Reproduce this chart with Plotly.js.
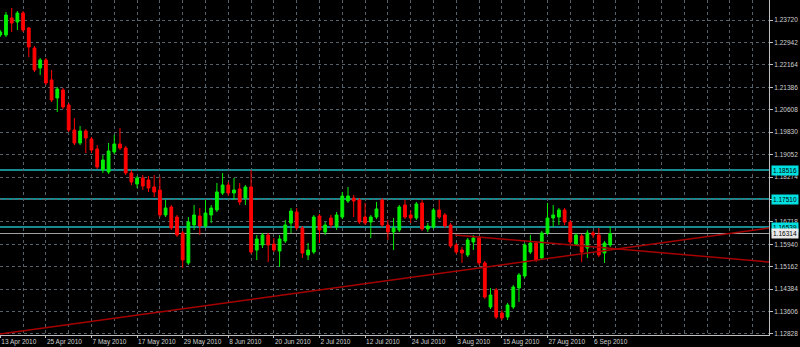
<!DOCTYPE html>
<html>
<head>
<meta charset="utf-8">
<script src="https://cdn.plot.ly/plotly-3.0.1.min.js"></script>
<style>
html,body{margin:0;padding:0;background:#000;}
#chart{width:800px;height:347px;}
</style>
</head>
<body>
<div id="chart"></div>
<script>
// Date labels on the time axis and the bar each one sits on
const dateLabels = ["13 Apr 2010","25 Apr 2010","7 May 2010","17 May 2010","29 May 2010","8 Jun 2010","20 Jun 2010","2 Jul 2010","12 Jul 2010","24 Jul 2010","3 Aug 2010","15 Aug 2010","27 Aug 2010","6 Sep 2010"];
const dateLabelBars = [0,8,16,24,32,40,48,56,64,72,80,88,96,104];

// Price axis labels
const priceTicks = [1.23720,1.22942,1.22164,1.21386,1.20608,1.19830,1.19052,1.18274,1.17496,1.16718,1.15940,1.15162,1.14384,1.13606,1.12828];
const priceTickText = ["1.23720","1.22942","1.22164","1.21386","1.20608","1.19830","1.19052","1.18274","1.17496","1.16718","1.15940","1.15162","1.14384","1.13606","1.12828"];

// Daily OHLC
const opens = [1.23200,1.23200,1.23790,1.23651,1.23963,1.23443,1.22749,1.22055,1.22333,1.21639,
1.21014,1.21292,1.20772,1.19904,1.19453,1.19870,1.19592,1.19245,1.18517,1.18447,
1.19141,1.19419,1.19280,1.18413,1.18031,1.18239,1.18170,1.17927,1.17823,1.16956,
1.17233,1.16886,1.16331,1.15291,1.16609,1.16921,1.16574,1.16956,1.17129,1.17719,
1.17996,1.17719,1.17858,1.17545,1.17927,1.15742,1.15915,1.16262,1.15950,1.15707,
1.16054,1.16678,1.17060,1.16505,1.15568,1.15672,1.16921,1.16366,1.16852,1.16539,
1.16886,1.17441,1.17545,1.17476,1.16886,1.16713,1.16886,1.17476,1.16609,1.16366,
1.16435,1.17303,1.16956,1.16852,1.17372,1.16470,1.16539,1.17129,1.16956,1.16609,
1.15915,1.15742,1.15568,1.16019,1.16158,1.15291,1.13764,1.14354,1.13556,1.13417,
1.13764,1.14423,1.14840,1.15672,1.15984,1.15464,1.16331,1.16852,1.16886,1.17129,
1.16713,1.15950,1.16227,1.15811,1.16331,1.16262,1.15638,1.15915];
const highs = [1.23373,1.23998,1.24136,1.24032,1.24032,1.23477,1.22818,1.22402,1.22402,1.21986,
1.21396,1.21361,1.20841,1.20321,1.20043,1.19939,1.19661,1.19384,1.19037,1.19453,
1.19731,1.19974,1.19349,1.18517,1.18309,1.18343,1.18309,1.18343,1.18274,1.17476,
1.17303,1.16956,1.16401,1.16886,1.17303,1.17198,1.17476,1.17303,1.18066,1.18413,
1.18100,1.18239,1.18066,1.17996,1.18517,1.16262,1.16331,1.16331,1.16158,1.16262,
1.16782,1.17198,1.17198,1.16574,1.15984,1.16956,1.16990,1.16713,1.16956,1.17060,
1.17754,1.17927,1.17649,1.17545,1.17372,1.16956,1.17407,1.17545,1.16782,1.16852,
1.17303,1.17476,1.17129,1.17407,1.17476,1.16678,1.17198,1.17476,1.17025,1.16678,
1.15984,1.15846,1.16158,1.16262,1.16227,1.15360,1.14423,1.14423,1.13660,1.13903,
1.14527,1.14944,1.15984,1.16262,1.16054,1.16401,1.17372,1.17303,1.17198,1.17198,
1.16782,1.16331,1.16297,1.16435,1.16401,1.16505,1.16054,1.16539];
const lows = [1.23130,1.23130,1.23304,1.23373,1.23304,1.22437,1.21916,1.21812,1.21465,1.20876,
1.20529,1.20633,1.19835,1.19384,1.19384,1.19106,1.19106,1.18551,1.18413,1.18378,
1.19072,1.19210,1.18343,1.17996,1.17892,1.17823,1.17754,1.17580,1.16886,1.16886,
1.16435,1.16193,1.15117,1.15221,1.16435,1.16262,1.16505,1.16678,1.17060,1.17649,
1.17615,1.17476,1.17303,1.17303,1.15603,1.15395,1.15811,1.15326,1.15672,1.15152,
1.15984,1.16331,1.16435,1.15464,1.15395,1.15603,1.15984,1.16262,1.16505,1.16435,
1.16817,1.17372,1.16886,1.16643,1.16609,1.16158,1.16817,1.16539,1.16088,1.15742,
1.16366,1.16817,1.16678,1.16782,1.16401,1.16366,1.16470,1.16817,1.16505,1.15811,
1.15603,1.15291,1.15499,1.15742,1.15221,1.14042,1.13695,1.13348,1.13313,1.13313,
1.13695,1.13938,1.14770,1.15603,1.15326,1.15395,1.16262,1.16539,1.16609,1.16609,
1.15950,1.15880,1.15326,1.15464,1.16158,1.15499,1.15291,1.15846];
const closes = [1.23304,1.23894,1.23616,1.23963,1.23373,1.22784,1.21986,1.22333,1.21535,1.20945,
1.21327,1.20702,1.19904,1.19453,1.19870,1.19627,1.19210,1.18621,1.18864,1.19176,
1.19419,1.19280,1.18413,1.18100,1.18239,1.17962,1.17892,1.17754,1.16956,1.17198,
1.16505,1.16262,1.15395,1.16713,1.16956,1.16574,1.17025,1.17198,1.17754,1.17996,
1.17719,1.17823,1.17407,1.17927,1.15672,1.16123,1.16262,1.15915,1.15742,1.16123,
1.16609,1.17094,1.16505,1.15638,1.15742,1.16886,1.16435,1.16609,1.16609,1.16956,
1.17615,1.17615,1.17441,1.16713,1.16678,1.16886,1.17164,1.16609,1.16366,1.16505,
1.17233,1.16886,1.16852,1.17337,1.16470,1.16574,1.17129,1.16886,1.16574,1.15880,
1.15672,1.15638,1.16088,1.16158,1.15291,1.14111,1.14180,1.13417,1.13383,1.13834,
1.14458,1.14874,1.15915,1.15984,1.15395,1.16331,1.16852,1.16956,1.17129,1.16713,
1.16019,1.16262,1.15672,1.16331,1.16262,1.15568,1.15984,1.16314];

// Horizontal levels (cyan) and trend lines (bar index, price)
const cyanLevels = [1.18516, 1.17510, 1.16539];
const upTrendBars = [-0.05, 134.86];
const upTrendPrices = [1.12828, 1.16505];
const downTrendBars = [79.8, 134.86];
const downTrendPrices = [1.16262, 1.15326];

const bars = opens.map((_, i) => i);
const bid = closes[closes.length - 1];

const gridColor = '#55616b';
const textColor = '#d0d0d0';
const cyan = '#1fb8c0';
const trendRed = '#a80000';

const traces = [
  {
    type: 'candlestick',
    x: bars, open: opens, high: highs, low: lows, close: closes,
    increasing: {line: {color: '#00ee00', width: 1}, fillcolor: '#00ee00'},
    decreasing: {line: {color: '#ff0000', width: 1}, fillcolor: '#ff0000'},
    whiskerwidth: 0,
    hoverinfo: 'skip',
    showlegend: false
  },
  {
    type: 'scatter', mode: 'lines', x: upTrendBars, y: upTrendPrices,
    line: {color: trendRed, width: 1.5}, hoverinfo: 'skip', showlegend: false
  },
  {
    type: 'scatter', mode: 'lines', x: downTrendBars, y: downTrendPrices,
    line: {color: trendRed, width: 1.5}, hoverinfo: 'skip', showlegend: false
  }
];

const shapes = cyanLevels.map(v => ({
  type: 'line', xref: 'paper', x0: 0, x1: 1, yref: 'y', y0: v, y1: v,
  line: {color: cyan, width: 1.5}, layer: 'below'
}));
shapes.push({
  type: 'line', xref: 'paper', x0: 0, x1: 1, yref: 'y', y0: bid, y1: bid,
  line: {color: '#a0a0a0', width: 1}, layer: 'below'
});

const annotations = cyanLevels.map(v => ({
  xref: 'paper', x: 1, xanchor: 'left', xshift: 2, yref: 'y', y: v, yanchor: 'middle',
  text: v.toFixed(5), showarrow: false, bgcolor: '#00e0e0', borderpad: 1,
  font: {family: 'Liberation Sans, Arial', size: 6.5, color: '#000'}
}));
annotations.push({
  xref: 'paper', x: 1, xanchor: 'left', xshift: 2, yref: 'y', y: bid, yanchor: 'middle',
  text: bid.toFixed(5), showarrow: false, bgcolor: '#e8e8e8', borderpad: 1,
  font: {family: 'Liberation Sans, Arial', size: 6.5, color: '#000'}
});

const layout = {
  width: 800, height: 347,
  margin: {l: 0, r: 31, t: 0, b: 12, pad: 0},
  paper_bgcolor: '#000', plot_bgcolor: '#000',
  showlegend: false,
  dragmode: false,
  xaxis: {
    type: 'linear',
    range: [-0.05, 134.86],
    tickmode: 'array', tickvals: dateLabelBars, ticktext: dateLabels,
    tickangle: 0,
    ticklabelposition: 'outside right',
    ticklabeloverflow: 'allow',
    ticks: 'outside', ticklen: 2, tickcolor: '#c0c0c0',
    showline: true, linecolor: '#c0c0c0', linewidth: 1,
    showgrid: true, gridcolor: gridColor, griddash: 'dot', gridwidth: 1,
    minor: {tick0: 0, dtick: 4, showgrid: true, gridcolor: gridColor, griddash: 'dot', gridwidth: 1, ticks: ''},
    zeroline: false,
    rangeslider: {visible: false},
    automargin: false,
    tickfont: {family: 'Liberation Sans, Arial', size: 6.5, color: textColor},
    fixedrange: true
  },
  yaxis: {
    side: 'right',
    range: [1.12793, 1.24414],
    tickmode: 'array', tickvals: priceTicks, ticktext: priceTickText,
    ticks: 'outside', ticklen: 3, tickcolor: '#c0c0c0',
    showline: true, linecolor: '#c0c0c0', linewidth: 1,
    showgrid: true, gridcolor: gridColor, griddash: 'dot', gridwidth: 1,
    zeroline: false,
    automargin: false,
    tickfont: {family: 'Liberation Sans, Arial', size: 6.5, color: textColor},
    fixedrange: true
  },
  shapes: shapes,
  annotations: annotations
};

Plotly.newPlot('chart', traces, layout, {displayModeBar: false, staticPlot: true});
</script>
</body>
</html>
